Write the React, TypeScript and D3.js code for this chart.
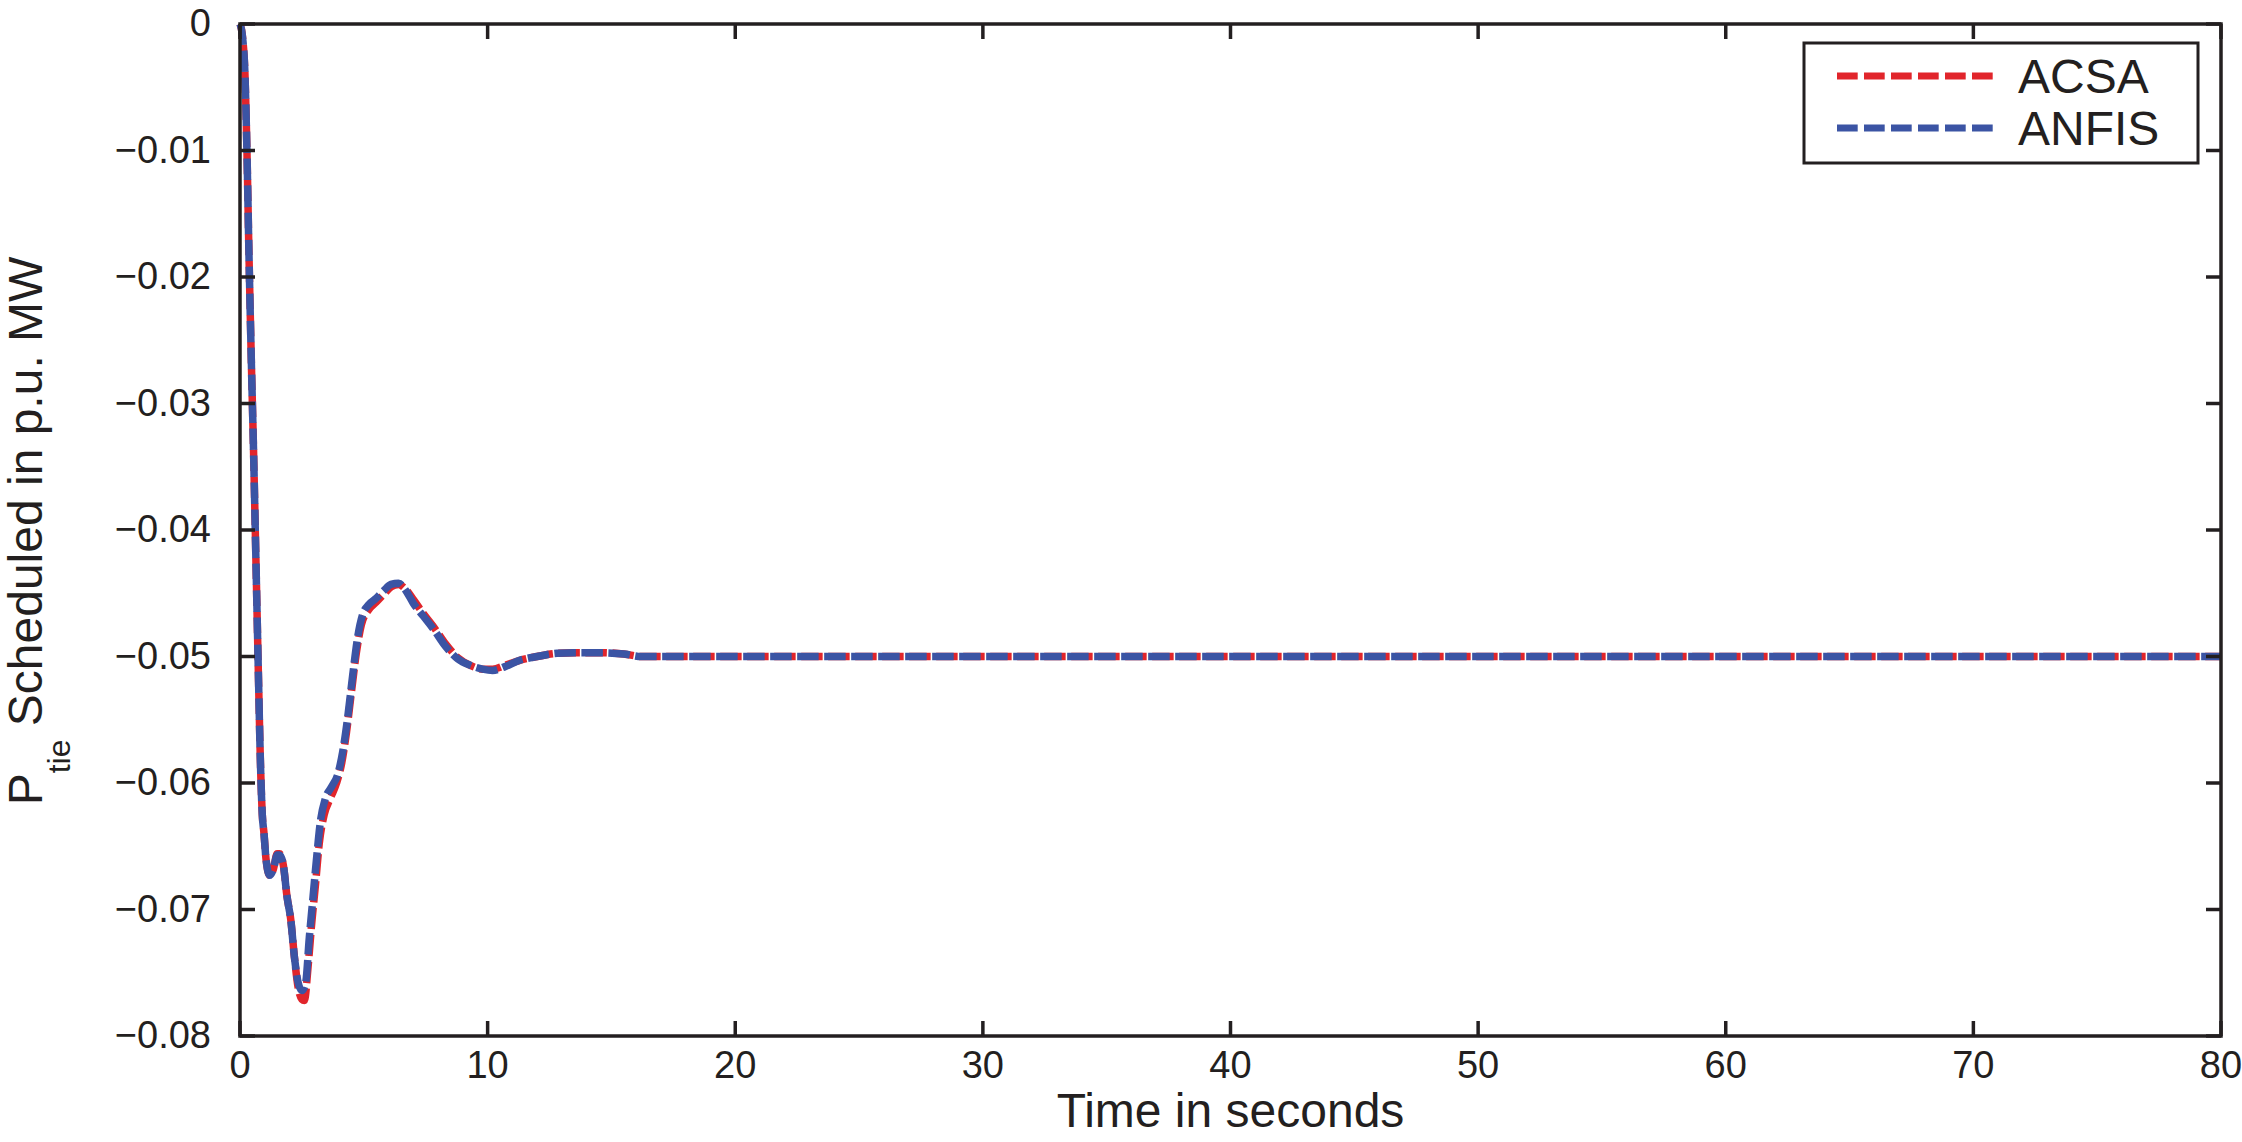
import React, { useEffect, useRef, useState } from "react";
import * as d3 from "d3";

// ---- data ----
const anfisT = [0, 0.1, 0.2, 0.28, 0.36, 0.45, 0.55, 0.65, 0.75, 0.82, 0.9, 0.97, 1.05, 1.2, 1.35, 1.5, 1.6, 1.75, 1.9, 2.05, 2.2, 2.35, 2.5, 2.65, 2.8, 2.95, 3.1, 3.25, 3.45, 3.7, 3.95, 4.15, 4.35, 4.55, 4.75, 4.95, 5.2, 5.5, 5.8, 6.1, 6.4, 6.7, 7.0, 7.4, 7.8, 8.3, 8.8, 9.3, 9.8, 10.2, 10.7, 11.3, 12.0, 12.8, 13.5, 14.5, 15.5, 16.2, 80];
const anfisV = [0, -0.001, -0.004, -0.01, -0.018, -0.026, -0.034, -0.043, -0.052, -0.058, -0.0625, -0.064, -0.066, -0.0673, -0.0668, -0.0657, -0.0657, -0.0665, -0.069, -0.0708, -0.0738, -0.0758, -0.0764, -0.0758, -0.0722, -0.069, -0.0658, -0.063, -0.0612, -0.0603, -0.0593, -0.0575, -0.0548, -0.0515, -0.0485, -0.0467, -0.0459, -0.0454, -0.0448, -0.0443, -0.0442, -0.0448, -0.0458, -0.0468, -0.0478, -0.0492, -0.0502, -0.0507, -0.051, -0.0511, -0.0508, -0.0503, -0.05, -0.04975, -0.0497, -0.0497, -0.0498, -0.05, -0.05];

const acsaT = [0, 0.1, 0.2, 0.28, 0.36, 0.45, 0.55, 0.65, 0.75, 0.82, 0.9, 0.97, 1.05, 1.2, 1.35, 1.5, 1.6, 1.75, 1.9, 2.05, 2.2, 2.35, 2.5, 2.6, 2.75, 2.9, 3.05, 3.2, 3.4, 3.65, 3.9, 4.1, 4.3, 4.5, 4.7, 4.9, 5.2, 5.5, 5.8, 6.1, 6.4, 6.7, 7.0, 7.4, 7.8, 8.3, 8.8, 9.3, 9.8, 10.2, 10.7, 11.3, 12.0, 12.8, 13.5, 14.5, 15.5, 16.2, 80];
const acsaV = [0, -0.001, -0.004, -0.01, -0.018, -0.026, -0.034, -0.043, -0.052, -0.058, -0.0625, -0.064, -0.066, -0.0673, -0.0668, -0.0656, -0.0656, -0.0665, -0.069, -0.0708, -0.0738, -0.0762, -0.0771, -0.0772, -0.0745, -0.071, -0.068, -0.0648, -0.0625, -0.0612, -0.06, -0.0585, -0.056, -0.0528, -0.0497, -0.0475, -0.0463, -0.0457, -0.0451, -0.0445, -0.0443, -0.0447, -0.0455, -0.0466, -0.0476, -0.049, -0.0501, -0.0507, -0.051, -0.051, -0.0507, -0.0503, -0.05, -0.04975, -0.0497, -0.0497, -0.0498, -0.05, -0.05];

const xTicks = [0, 10, 20, 30, 40, 50, 60, 70, 80];
const yTicks = [0, -0.01, -0.02, -0.03, -0.04, -0.05, -0.06, -0.07, -0.08];
const seriesNames = ["ACSA", "ANFIS"];
const seriesColors = ["#e1252b", "#3b54a4"];

const W = 2242;
const H = 1142;
const INK = "#231f20";
const FONT = "'Liberation Sans', Arial, Helvetica, sans-serif";
const DASH = 21.5;
const GAP = 5.5;

export default function App() {
  const left = 240, right = 2221, top = 24, bottom = 1036;
  const x = d3.scaleLinear().domain([0, 80]).range([left, right]);
  const y = d3.scaleLinear().domain([-0.08, 0]).range([bottom, top]);
  const line = d3
    .line<[number, number]>()
    .x((d) => x(d[0]))
    .y((d) => y(d[1]))
    .curve(d3.curveMonotoneX);

  const acsa = acsaT.map((t, i) => [t, acsaV[i]] as [number, number]);
  const anfis = anfisT.map((t, i) => [t, anfisV[i]] as [number, number]);
  const tickLen = 15;
  const fmtY = (v: number) => (v === 0 ? "0" : d3.format(".2f")(v));

  const redRef = useRef<SVGPathElement>(null);
  const blueRef = useRef<SVGPathElement>(null);
  const [redOffset, setRedOffset] = useState(0);
  useEffect(() => {
    if (redRef.current && blueRef.current) {
      const lr = redRef.current.getTotalLength();
      const lb = blueRef.current.getTotalLength();
      setRedOffset(lb - lr - 4);
    }
  }, []);

  const legX = 1804, legY = 43, legW = 394, legH = 120;

  return (
    <svg
      width={W}
      height={H}
      style={{ position: "absolute", left: 0, top: 0, display: "block", background: "#fff" }}
      fontFamily={FONT}
    >
      <rect x={0} y={0} width={W} height={H} fill="#fff" />
      {/* curves */}
      <path ref={redRef} d={line(acsa) || ""} fill="none" stroke={seriesColors[0]} strokeWidth={7.5} strokeDasharray={`${DASH} ${GAP}`} strokeDashoffset={redOffset} />
      <path ref={blueRef} d={line(anfis) || ""} fill="none" stroke={seriesColors[1]} strokeWidth={7.5} strokeDasharray={`${DASH} ${GAP}`} />

      {/* axes box */}
      <rect x={left} y={top} width={right - left} height={bottom - top} fill="none" stroke={INK} strokeWidth={3.5} />
      {xTicks.map((t) => (
        <g key={"xt" + t}>
          <line x1={x(t)} x2={x(t)} y1={bottom} y2={bottom - tickLen} stroke={INK} strokeWidth={3.5} />
          <line x1={x(t)} x2={x(t)} y1={top} y2={top + tickLen} stroke={INK} strokeWidth={3.5} />
          <text x={x(t)} y={1078} textAnchor="middle" fontSize={38} fill={INK}>
            {String(t)}
          </text>
        </g>
      ))}
      {yTicks.map((v) => (
        <g key={"yt" + v}>
          <line x1={left} x2={left + tickLen} y1={y(v)} y2={y(v)} stroke={INK} strokeWidth={3.5} />
          <line x1={right} x2={right - tickLen} y1={y(v)} y2={y(v)} stroke={INK} strokeWidth={3.5} />
          <text x={211} y={y(v) + 12} textAnchor="end" fontSize={38} fill={INK}>
            {fmtY(v)}
          </text>
        </g>
      ))}

      {/* axis labels */}
      <text x={(left + right) / 2} y={1127} textAnchor="middle" fontSize={48} fill={INK}>
        Time in seconds
      </text>
      <text transform="translate(42,531) rotate(-90)" textAnchor="middle" fontSize={48} fill={INK}>
        P
        <tspan fontSize={32} dy={28}>tie</tspan>
        <tspan dy={-28}> Scheduled in p.u. MW</tspan>
      </text>

      {/* legend */}
      <rect x={legX} y={legY} width={legW} height={legH} fill="#fff" stroke={INK} strokeWidth={3} />
      {seriesNames.map((n, i) => (
        <g key={n}>
          <line x1={1837} x2={1993} y1={76 + i * 52} y2={76 + i * 52} stroke={seriesColors[i]} strokeWidth={7} strokeDasharray="20.7 6.3" />
          <text x={2018} y={93 + i * 52} fontSize={48} fill={INK}>
            {n}
          </text>
        </g>
      ))}
    </svg>
  );
}
